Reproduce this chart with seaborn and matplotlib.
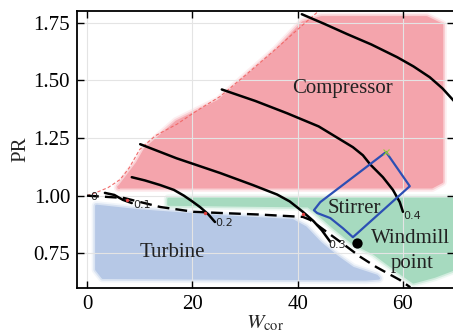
import matplotlib
matplotlib.use("Agg")
import matplotlib.pyplot as plt
import seaborn as sns

# -------------------------------
# Data
# -------------------------------
# operating regions (outline points, W_cor / PR)
comp_w = [6.0, 9.5, 11.0, 17.0, 25.0, 32.0, 36.0, 41.0, 44.5, 64.5, 67.4, 67.4, 65.5, 6.0]
comp_pr = [1.035, 1.14, 1.20, 1.32, 1.41, 1.55, 1.63, 1.75, 1.772, 1.772, 1.74, 1.06, 1.037, 1.037]

stir_w = [15.5, 69.5, 69.5, 66.0, 62.0, 59.5, 54.5, 50.5, 46.7, 43.7, 42.0, 15.5]
stir_pr = [0.985, 0.985, 0.68, 0.65, 0.625, 0.665, 0.75, 0.795, 0.865, 0.925, 0.955, 0.962]

turb_w = [1.8, 10.0, 25.0, 39.0, 41.5, 44.3, 47.5, 50.5, 55.0, 55.4, 53.0, 3.0, 1.8]
turb_pr = [0.955, 0.935, 0.91, 0.893, 0.862, 0.795, 0.735, 0.686, 0.652, 0.642, 0.638, 0.645, 0.68]

# speed lines
speed_labels = ["0.1", "0.2", "0.3", "0.4"]
n01_w = [3.4, 5.2, 6.8, 8.5]
n01_pr = [1.012, 1.003, 0.982, 0.968]
n02_w = [8.5, 11.0, 13.9, 16.5, 18.4, 20.0, 21.5, 23.0, 24.3]
n02_pr = [1.08, 1.066, 1.046, 1.025, 1.0, 0.975, 0.95, 0.92, 0.886]
n03_w = [10.1, 17.0, 25.3, 31.5, 36.1, 38.5, 41.0, 43.0, 44.6, 46.2]
n03_pr = [1.223, 1.162, 1.098, 1.046, 1.005, 0.975, 0.93, 0.89, 0.85, 0.80]
n04_w = [25.6, 32.0, 38.0, 44.0, 50.5, 52.4, 53.8, 56.2, 58.1, 59.4, 60.0]
n04_pr = [1.46, 1.41, 1.357, 1.30, 1.21, 1.175, 1.135, 1.08, 1.025, 0.972, 0.93]
n05_w = [40.8, 45.0, 49.4, 54.0, 58.9, 62.0, 65.1, 67.5, 69.7]
n05_pr = [1.786, 1.745, 1.70, 1.655, 1.60, 1.56, 1.513, 1.465, 1.41]

# zero-torque (black dashed) and surge-like (red dashed) lines
zt_w = [0.0, 7.0, 13.9, 20.3, 25.3, 33.0, 41.0, 42.4, 47.5, 49.4, 51.9, 55.0, 59.4, 61.4]
zt_pr = [1.0, 0.99, 0.951, 0.93, 0.925, 0.918, 0.908, 0.895, 0.81, 0.778, 0.735, 0.69, 0.635, 0.603]
surge_w = [0.0, 1.9, 4.0, 6.3, 8.0, 10.0, 13.0, 17.1, 21.0, 25.3, 30.0, 36.1, 40.0, 44.0]
surge_pr = [1.0, 1.015, 1.035, 1.07, 1.12, 1.2, 1.26, 1.31, 1.37, 1.43, 1.52, 1.64, 1.72, 1.80]

# stirrer test loop
loop_w = [56.8, 61.3, 50.5, 48.6, 46.2, 43.7, 43.1, 44.3, 56.8]
loop_pr = [1.189, 1.041, 0.82, 0.859, 0.903, 0.925, 0.937, 0.972, 1.189]

# windmill point and red crossing marks
wm_w, wm_pr = [51.3], [0.795]
cross_w = [7.6, 22.4, 41.0]
cross_pr = [0.98, 0.925, 0.92]

# -------------------------------
# Style
# -------------------------------
sns.set_theme(style="ticks")
plt.rcParams["font.family"] = ["Liberation Serif", "DejaVu Serif"]
plt.rcParams["mathtext.fontset"] = "stix"

fig = plt.figure(figsize=(4.53, 3.36), dpi=100)
ax = fig.add_axes([77 / 453, 48 / 336, 377 / 453, 277 / 336])


def soft_region(xs, ys, color):
    # blurred-looking filled region
    for lw, a in [(7, 0.18), (4.5, 0.4), (2.0, 1.0)]:
        ax.fill(xs, ys, color=color, alpha=a, lw=lw, joinstyle="round", zorder=1)


soft_region(comp_w, comp_pr, "#f4a4ac")
soft_region(stir_w, stir_pr, "#a6dabf")
soft_region(turb_w, turb_pr, "#b6c8e6")

# lines
sns.lineplot(x=surge_w, y=surge_pr, sort=False, estimator=None, color="#f06a6a",
             lw=0.8, linestyle=(0, (3, 2)), ax=ax, zorder=2)
sns.lineplot(x=zt_w, y=zt_pr, sort=False, estimator=None, color="black",
             lw=1.7, linestyle=(0, (5, 2.6)), ax=ax, zorder=2)
for xs, ys in [(n01_w, n01_pr), (n02_w, n02_pr), (n03_w, n03_pr),
               (n04_w, n04_pr), (n05_w, n05_pr)]:
    sns.lineplot(x=xs, y=ys, sort=False, estimator=None, color="black",
                 lw=1.8, ax=ax, zorder=3)
sns.lineplot(x=loop_w, y=loop_pr, sort=False, estimator=None, color="#2c4fb4",
             lw=1.6, ax=ax, zorder=3)
ax.plot(loop_w[0], loop_pr[0], marker="x", color="#9acd32", ms=4, mew=0.8, zorder=4)
sns.scatterplot(x=cross_w, y=cross_pr, color="#e04040", s=6, linewidth=0, ax=ax, zorder=4)
sns.scatterplot(x=wm_w, y=wm_pr, color="black", s=55, linewidth=0, ax=ax, zorder=5)

# speed labels
sp = dict(family="DejaVu Sans", fontsize=8, color="#222222", va="center", zorder=6)
ax.text(1.2, 0.994, "0", ha="center", **sp)
ax.text(8.7, 0.958, speed_labels[0], ha="left", **sp)
ax.text(24.3, 0.880, speed_labels[1], ha="left", **sp)
ax.text(45.8, 0.786, speed_labels[2], ha="left", **sp)
ax.text(60.0, 0.912, speed_labels[3], ha="left", **sp)

# region labels
rl = dict(fontsize=15, color="#222222", ha="center", va="center", zorder=6)
ax.text(48.6, 1.465, "Compressor", **rl)
ax.text(16.2, 0.755, "Turbine", **rl)
ax.text(50.7, 0.946, "Stirrer", **rl)
ax.text(61.5, 0.816, "Windmill", **rl)
ax.text(61.7, 0.708, "point", **rl)

# axes
ax.set_xlim(-1.9, 69.7)
ax.set_ylim(0.6, 1.80)
ax.set_xticks([0, 20, 40, 60])
ax.set_yticks([0.75, 1.00, 1.25, 1.50, 1.75])
ax.set_yticklabels(["0.75", "1.00", "1.25", "1.50", "1.75"])
ax.grid(True, color="#e4e4e4", lw=0.8)
ax.set_axisbelow("line")
ax.tick_params(direction="in", length=5, width=1.0, labelsize=15, colors="black",
               top=True, right=True, pad=5)
for s in ax.spines.values():
    s.set_color("black")
    s.set_linewidth(1.3)
ax.set_xlabel(r"$W_{\mathrm{cor}}$", fontsize=15, labelpad=0)
ax.set_ylabel("PR", fontsize=15, labelpad=2)

fig.savefig("out.png", dpi=100)
